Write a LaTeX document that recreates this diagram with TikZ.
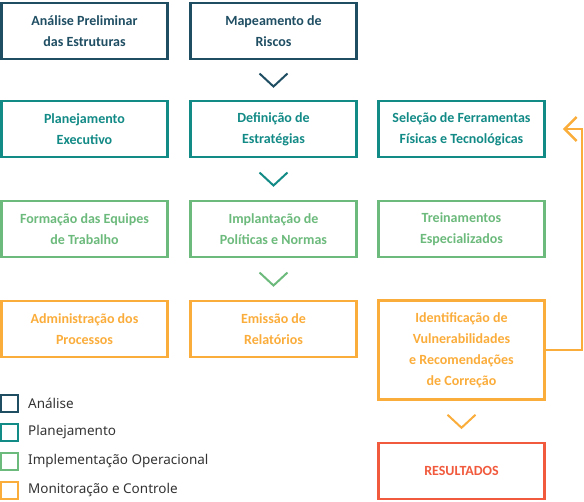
\documentclass[tikz,border=0pt]{standalone}
\usepackage{fontspec}
\setmainfont{Carlito}
\newfontfamily\legfont{Noto Sans}
\usetikzlibrary{arrows.meta,calc}
\definecolor{canal}{HTML}{1F4E63}
\definecolor{cplan}{HTML}{128A86}
\definecolor{cimpl}{HTML}{6CBA7C}
\definecolor{cmon}{HTML}{FBAD3B}
\definecolor{cres}{HTML}{F15A3D}
\definecolor{inkleg}{HTML}{333333}
\tikzset{
  etapa/.style={draw, line width=2.5pt, fill=white, align=center, inner sep=2pt,
                font=\fontsize{14}{21}\selectfont\bfseries, minimum width=166pt, minimum height=56pt},
  analise/.style={etapa, draw=canal, text=canal},
  planej/.style={etapa, draw=cplan, text=cplan},
  implem/.style={etapa, draw=cimpl, text=cimpl},
  monit/.style={etapa, draw=cmon, text=cmon},
  result/.style={etapa, draw=cres, text=cres},
  chev/.style={line width=2pt},
  % ---- feedback arrow ----
  fb/.style={-{Straight Barb[length=12pt,width=24pt]}, line width=2.5pt, draw=cmon},
  % ---- legend ----
  legbox/.style={draw, line width=2pt, fill=white, minimum size=17pt, inner sep=0pt},
  legtxt/.style={font=\legfont\fontsize{13.5}{16}\selectfont, text=inkleg, anchor=west, inner sep=0pt},
}
% chevron between two stacked boxes
\newcommand{\chevron}[3]{\draw[chev, draw=#3] ($(#1.south)!0.5!(#2.north)$) +(-14,-6.5) -- +(0,6.5) -- +(14,-6.5);}

\begin{document}
\begin{tikzpicture}[x=1pt, y=-1pt]
  \useasboundingbox (0,0) rectangle (584,501);
  % analise
  \node[analise] (ape) at (84.5,31) {Análise Preliminar\\das Estruturas};
  \node[analise] (map) at (273.5,31) {Mapeamento de\\Riscos};
  % planejamento
  \node[planej] (pex) at (84.5,129) {Planejamento\\Executivo};
  \node[planej] (def) at (273.5,129) {Definição de\\Estratégias};
  \node[planej] (sel) at (461.5,129) {Seleção de Ferramentas\\Físicas e Tecnológicas};
  % implementacao
  \node[implem] (feq) at (84.5,229) {Formação das Equipes\\de Trabalho};
  \node[implem] (ipn) at (273.5,229) {Implantação de\\Políticas e Normas};
  \node[implem] (tre) at (461.5,229) {Treinamentos\\Especializados};
  % monitoracao
  \node[monit] (adm) at (84.5,329) {Administração dos\\Processos};
  \node[monit] (emi) at (273.5,329) {Emissão de\\Relatórios};
  \node[monit, minimum height=99pt] (idv) at (461.5,350)
     {Identificação de\\Vulnerabilidades\\e Recomendações\\de Correção};
  % resultados
  \node[result] (res) at (461.5,471) {RESULTADOS};
  % chevrons
  \chevron{map}{def}{canal}
  \chevron{def}{ipn}{cplan}
  \chevron{ipn}{emi}{cimpl}
  \chevron{idv}{res}{cmon}
  % feedback
  \draw[fb] (idv.east) -- ++(36,0) |- ([xshift=17pt]sel.east);
  % legend
  \foreach \c/\t [count=\i from 0] in {canal/Análise, cplan/Planejamento,
      cimpl/Implementação Operacional, cmon/Monitoração e Controle}{
    \node[legbox, draw=\c] (lb\i) at (9.5,403+29*\i) {};
    \node[legtxt] (lt\i) at (28,403+29*\i) {\t};
  }
\end{tikzpicture}
\end{document}
